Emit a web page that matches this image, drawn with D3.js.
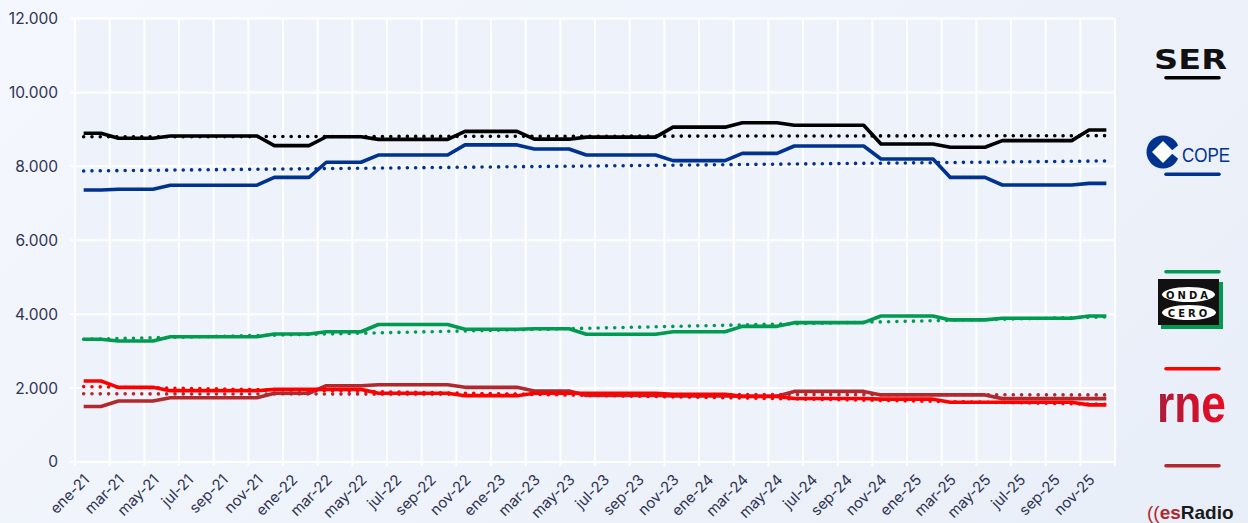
<!DOCTYPE html>
<html>
<head>
<meta charset="utf-8">
<title>Audiencia radio EGM</title>
<script src="https://d3js.org/d3.v7.min.js"></script>
<style>
  html, body {
    margin:0;
    padding:0;
  }
  body {
    width:1248px;
    height:523px;
    overflow:hidden;
    background:linear-gradient(135deg, #f4f7fd 0%, #eef2fa 55%, #e8eef8 100%);
  }
  svg { display:block; }
</style>
</head>
<body>
<svg id="chart" width="1248" height="523"></svg>
<script>
// categories
var months = ["ene","feb","mar","abr","may","jun","jul","ago","sep","oct","nov","dic"];
var years = ["21","22","23","24","25"];
var yTicks = [0, 2000, 4000, 6000, 8000, 10000, 12000];

// oyentes diarios (miles)
var ser = [8895,8895, 8760,8760,8760, 8820,8820,8820,8820,8820,8820, 8560,8560,8560, 8800,8800,8800,
  8730,8730,8730,8730,8730, 8945,8945,8945,8945, 8735,8735,8735, 8790,8790,8790,8790,8790,
  9060,9060,9060,9060, 9180,9180,9180, 9110,9110,9110,9110,9110, 8605,8605,8605,8605,
  8515,8515,8515, 8695,8695,8695,8695,8695, 8985,8985];
var cope = [7360,7360, 7380,7380,7380, 7490,7490,7490,7490,7490,7490, 7700,7700,7700, 8110,8110,8110,
  8305,8305,8305,8305,8305, 8580,8580,8580,8580, 8470,8470,8470, 8305,8305,8305,8305,8305,
  8155,8155,8155,8155, 8350,8350,8350, 8550,8550,8550,8550,8550, 8200,8200,8200,8200,
  7700,7700,7700, 7495,7495,7495,7495,7495, 7540,7540];
var onda = [3320,3320, 3275,3275,3275, 3390,3390,3390,3390,3390,3390, 3465,3465,3465, 3525,3525,3525,
  3720,3720,3720,3720,3720, 3590,3590,3590,3590, 3605,3605,3605, 3455,3455,3455,3455,3455,
  3525,3525,3525,3525, 3670,3670,3670, 3770,3770,3770,3770,3770, 3950,3950,3950,3950,
  3845,3845,3845, 3890,3890,3890,3890,3890, 3950,3950];
var rne = [2190,2190, 2020,2020,2020, 1930,1930,1930,1930,1930,1930, 1965,1965,1965, 1965,1965,1965,
  1860,1860,1860,1860,1860, 1795,1795,1795,1795, 1860,1860,1860, 1860,1860,1860,1860,1860,
  1830,1830,1830,1830, 1775,1775,1775, 1720,1720,1720,1720,1720, 1700,1700,1700,1700,
  1615,1615,1615, 1615,1615,1615,1615,1615, 1545,1545];
var esradio = [1500,1500, 1650,1650,1650, 1740,1740,1740,1740,1740,1740, 1860,1860,1860, 2065,2065,2065,
  2090,2090,2090,2090,2090, 2020,2020,2020,2020, 1920,1920,1920, 1800,1800,1800,1800,1800,
  1790,1790,1790,1790, 1780,1780,1780, 1910,1910,1910,1910,1910, 1815,1815,1815,1815,
  1815,1815,1815, 1715,1715,1715,1715,1715, 1715,1715];

// lineas de tendencia (inicio, fin)
var trendSer = [8800, 8830];
var trendCope = [7875, 8145];
var trendOnda = [3320, 3925];
var trendRne = [2040, 1560];
var trendEsradio = [1845, 1815];

var categories = years.flatMap(function(yy) { return months.map(function(m) { return m + "-" + yy; }); });

var svg = d3.select("#chart");
var plotL = 75, plotR = 1115, plotT = 18.5, plotB = 462;

var x = d3.scaleBand().domain(categories).range([plotL, plotR]);
var y = d3.scaleLinear().domain([0, 12000]).range([plotB, plotT]);
var bw = x.bandwidth();
var cx = function(i) { return x(categories[i]) + bw / 2; };

var es = d3.formatLocale({decimal: ",", thousands: ".", grouping: [3], currency: ["", "€"]});
var fmt = es.format(",");

// plot background
svg.append("rect")
  .attr("x", plotL).attr("y", plotT)
  .attr("width", plotR - plotL).attr("height", plotB - plotT)
  .attr("fill", "#edf2fb");

// grid
var grid = svg.append("g").attr("stroke", "#ffffff").attr("stroke-width", 2);
grid.selectAll("line.h").data(yTicks).enter().append("line")
  .attr("x1", plotL - 5).attr("x2", plotR)
  .attr("y1", function(d) { return y(d); }).attr("y2", function(d) { return y(d); });
grid.selectAll("line.v").data(categories.filter(function(c, i) { return i % 2 === 0; })).enter().append("line")
  .attr("x1", function(d) { return x(d); }).attr("x2", function(d) { return x(d); })
  .attr("y1", plotT).attr("y2", plotB + 4);
grid.append("line").attr("x1", plotR).attr("x2", plotR).attr("y1", plotT).attr("y2", plotB + 4);

// y labels
svg.append("g").selectAll("text").data(yTicks).enter().append("text")
  .attr("x", 58).attr("y", function(d) { return y(d); })
  .attr("dy", "0.35em")
  .attr("text-anchor", "end")
  .attr("font-family", "Inter, 'Open Sans', sans-serif")
  .attr("font-size", 15.5)
  .attr("fill", "#2e3452")
  .text(function(d) { return fmt(d); });

// x labels
svg.append("g").selectAll("text").data(categories.filter(function(c, i) { return i % 2 === 0; })).enter().append("text")
  .attr("transform", function(d) { return "translate(" + (x(d) + bw / 2 + 3) + "," + 477 + ") rotate(-45)"; })
  .attr("text-anchor", "end")
  .attr("dy", "0.35em")
  .attr("font-family", "Inter, 'Open Sans', sans-serif")
  .attr("font-size", 15)
  .attr("fill", "#2e3452")
  .text(function(d) { return d; });

var series = [
  {values: esradio, trend: trendEsradio, color: "#b3282d"},
  {values: rne, trend: trendRne, color: "#ff0000"},
  {values: onda, trend: trendOnda, color: "#009a50"},
  {values: cope, trend: trendCope, color: "#00338f"},
  {values: ser, trend: trendSer, color: "#000000"}
];

var line = d3.line().x(function(d, i) { return cx(i); }).y(function(d) { return y(d); });

var lines = svg.append("g").attr("fill", "none");
series.forEach(function(s) {
  lines.append("path")
    .attr("d", line(s.values))
    .attr("stroke", s.color)
    .attr("stroke-width", 3.6)
    .attr("stroke-linejoin", "round");
  lines.append("line")
    .attr("x1", cx(0)).attr("x2", cx(categories.length - 1))
    .attr("y1", y(s.trend[0])).attr("y2", y(s.trend[1]))
    .attr("stroke", s.color)
    .attr("stroke-width", 3.6)
    .attr("stroke-linecap", "round")
    .attr("stroke-dasharray", "0 8.3");
});

// legend (logos)
var lg = svg.append("g");
var swatch = function(yy, color) {
  lg.append("line").attr("x1", 1166).attr("x2", 1219).attr("y1", yy).attr("y2", yy)
    .attr("stroke", color).attr("stroke-width", 3.6).attr("stroke-linecap", "round");
};

// SER
lg.append("text").attr("x", 1154).attr("y", 69)
  .attr("font-family", "'DejaVu Sans', sans-serif").attr("font-weight", 700)
  .attr("font-size", 27).attr("textLength", 73).attr("lengthAdjust", "spacingAndGlyphs")
  .attr("fill", "#111111").text("SER");
swatch(77.7, "#000000");

// COPE
lg.append("circle").attr("cx", 1163).attr("cy", 152).attr("r", 16.5).attr("fill", "#00338f");
lg.append("path").attr("d", "M1152,152 L1163,141 L1174,152 L1163,163 Z").attr("fill", "#ffffff");
lg.append("path").attr("d", "M1170,152 L1181,143 L1181,161 Z").attr("fill", "#eef2fa");
lg.append("text").attr("x", 1182).attr("y", 162)
  .attr("font-family", "'Liberation Sans', sans-serif")
  .attr("font-size", 20.5).attr("textLength", 48).attr("lengthAdjust", "spacingAndGlyphs")
  .attr("fill", "#00338f").text("COPE");
swatch(174.3, "#00338f");

// Onda Cero
swatch(271.7, "#009a50");
lg.append("rect").attr("x", 1161).attr("y", 282).attr("width", 62).attr("height", 47).attr("fill", "#009a50");
lg.append("rect").attr("x", 1158).attr("y", 279).attr("width", 61).attr("height", 46).attr("fill", "#111111");
lg.append("ellipse").attr("cx", 1188.5).attr("cy", 294.5).attr("rx", 26.5).attr("ry", 7.5).attr("fill", "#ffffff");
lg.append("ellipse").attr("cx", 1189).attr("cy", 312.5).attr("rx", 27).attr("ry", 7.5).attr("fill", "#ffffff");
lg.append("text").attr("x", 1188.5).attr("y", 298.5).attr("text-anchor", "middle")
  .attr("font-family", "'DejaVu Sans', sans-serif").attr("font-weight", 700).attr("font-size", 10)
  .attr("letter-spacing", 3).attr("fill", "#111111").text("ONDA");
lg.append("text").attr("x", 1189).attr("y", 316.5).attr("text-anchor", "middle")
  .attr("font-family", "'DejaVu Sans', sans-serif").attr("font-weight", 700).attr("font-size", 10)
  .attr("letter-spacing", 3).attr("fill", "#111111").text("CERO");

// rne
swatch(368.7, "#ff0000");
var defs = svg.append("defs");
var grad = defs.append("linearGradient").attr("id", "rneGrad").attr("x1", "0").attr("x2", "1");
grad.append("stop").attr("offset", "0").attr("stop-color", "#a81e3a");
grad.append("stop").attr("offset", "1").attr("stop-color", "#ec0a22");
lg.append("text").attr("x", 1157).attr("y", 422)
  .attr("font-family", "'Liberation Sans', sans-serif").attr("font-weight", 700)
  .attr("font-size", 54).attr("textLength", 69).attr("lengthAdjust", "spacingAndGlyphs")
  .attr("fill", "url(#rneGrad)").text("rne");

// esRadio
swatch(465.7, "#b3282d");
var esr = lg.append("text").attr("x", 1147).attr("y", 519)
  .attr("font-family", "'Liberation Sans', sans-serif").attr("font-weight", 700).attr("font-size", 19);
esr.append("tspan").attr("fill", "#b3282d").attr("font-weight", 400).text("((");
esr.append("tspan").attr("fill", "#b3282d").text("es");
esr.append("tspan").attr("fill", "#1a1a1a").text("Radio");
</script>
</body>
</html>
